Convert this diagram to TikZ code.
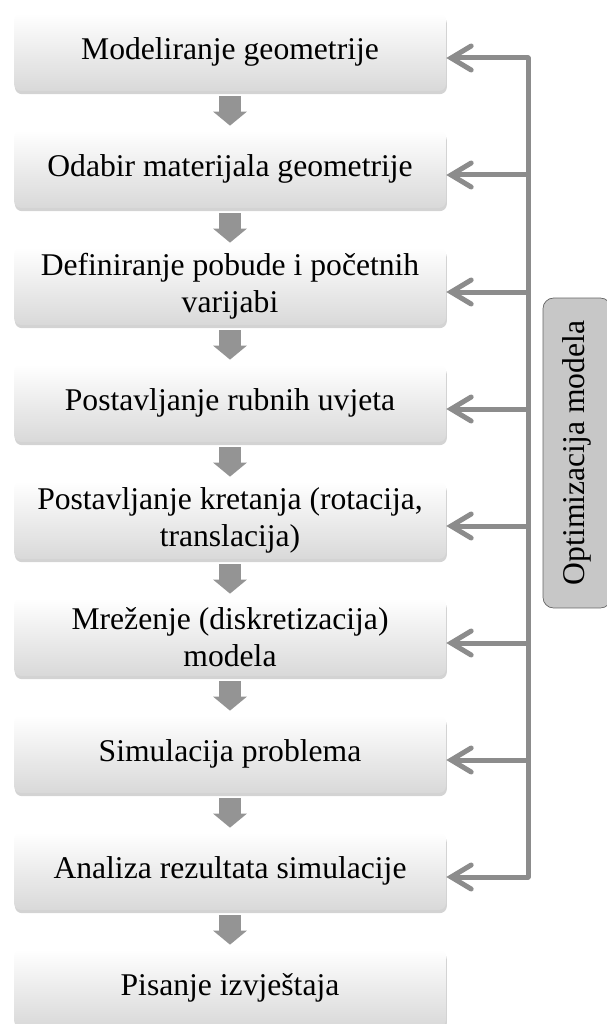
\documentclass[tikz,border=0pt]{standalone}
\usepackage{fontspec}
\setmainfont{Liberation Serif}
\usetikzlibrary{arrows.meta,shadows}

\tikzset{
	stepbox/.style={shape=rectangle, rounded corners=4pt, top color=white, bottom color=black!15,
		minimum width=8.64cm, minimum height=1.56cm, align=center,
		font=\fontsize{18}{21}\selectfont,
		drop shadow={opacity=0.35, shadow xshift=0.5pt, shadow yshift=-1.8pt}},
	downarrow/.style={draw=black!42, line width=0.44cm, shorten <=0.1cm, shorten >=0.08cm,
		-{Triangle[length=0.28cm, width=0.66cm, color=black!42]}},
	rail/.style={draw=black!45, line width=0.1cm, line cap=round},
	back/.style={draw=black!45, line width=0.1cm, line cap=round,
		-{Straight Barb[length=0.4cm, width=0.48cm, line cap=round]}},
	optbox/.style={shape=rectangle, draw=black!60, fill=black!22, rounded corners=6pt,
		rotate=90, minimum width=6.2cm, minimum height=1.36cm,
		font=\fontsize{18}{21}\selectfont}
}

\begin{document}
\begin{tikzpicture}[x=0.02cm, y=0.02cm]

	\useasboundingbox (0, 0) rectangle (606, -1024);

	\node[stepbox] (b1) at (230, -52)  {Modeliranje geometrije};
	\node[stepbox] (b2) at (230, -169) {Odabir materijala geometrije};
	\node[stepbox] (b3) at (230, -286) {Definiranje pobude i početnih\\varijabi};
	\node[stepbox] (b4) at (230, -403) {Postavljanje rubnih uvjeta};
	\node[stepbox] (b5) at (230, -520) {Postavljanje kretanja (rotacija,\\translacija)};
	\node[stepbox] (b6) at (230, -637) {Mreženje (diskretizacija)\\modela};
	\node[stepbox] (b7) at (230, -754) {Simulacija problema};
	\node[stepbox] (b8) at (230, -871) {Analiza rezultata simulacije};
	\node[stepbox] (b9) at (230, -988) {Pisanje izvještaja};

	\node[optbox] (opt) at (577, -453) {Optimizacija modela};

	\draw[downarrow] (b1) -- (b2);
	\draw[downarrow] (b2) -- (b3);
	\draw[downarrow] (b3) -- (b4);
	\draw[downarrow] (b4) -- (b5);
	\draw[downarrow] (b5) -- (b6);
	\draw[downarrow] (b6) -- (b7);
	\draw[downarrow] (b7) -- (b8);
	\draw[downarrow] (b8) -- (b9);

	% feedback rail
	\coordinate (rail) at (528, 0);
	\draw[rail] ([yshift=-0.12cm]b1.east -| rail) -- ([yshift=-0.12cm]b8.east -| rail);
	\draw[back] ([yshift=-0.12cm]b1.east -| rail) -- ([yshift=-0.12cm]b1.east);
	\draw[back] ([yshift=-0.12cm]b2.east -| rail) -- ([yshift=-0.12cm]b2.east);
	\draw[back] ([yshift=-0.12cm]b3.east -| rail) -- ([yshift=-0.12cm]b3.east);
	\draw[back] ([yshift=-0.12cm]b4.east -| rail) -- ([yshift=-0.12cm]b4.east);
	\draw[back] ([yshift=-0.12cm]b5.east -| rail) -- ([yshift=-0.12cm]b5.east);
	\draw[back] ([yshift=-0.12cm]b6.east -| rail) -- ([yshift=-0.12cm]b6.east);
	\draw[back] ([yshift=-0.12cm]b7.east -| rail) -- ([yshift=-0.12cm]b7.east);
	\draw[back] ([yshift=-0.12cm]b8.east -| rail) -- ([yshift=-0.12cm]b8.east);

\end{tikzpicture}
\end{document}
